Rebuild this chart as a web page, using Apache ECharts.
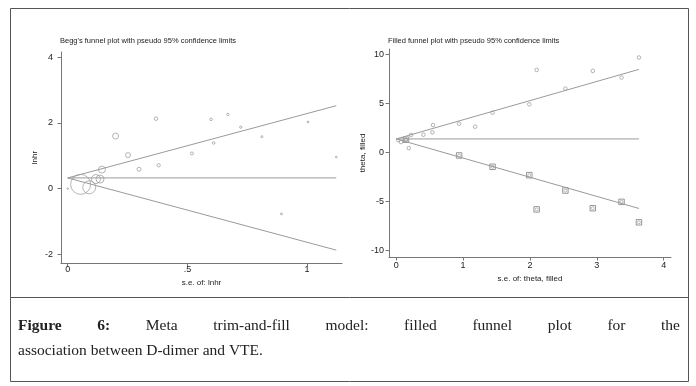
<!DOCTYPE html>
<html><head><meta charset="utf-8">
<script src="https://cdn.jsdelivr.net/npm/echarts@6/dist/echarts.min.js"></script>
<style>html,body{margin:0;padding:0;background:#fff}#c{width:696px;height:386px}</style>
</head><body><div id="c"></div>
<script>
// ---- Left panel: Begg's funnel plot ----
const beggSe     = [0, 0.054, 0.09, 0.118, 0.135, 0.143, 0.20, 0.252, 0.298, 0.369, 0.38, 0.519, 0.599, 0.61, 0.669, 0.723, 0.811, 0.893, 1.004, 1.122];
const beggLnhr   = [0, 0.13, 0.04, 0.29, 0.29, 0.58, 1.60, 1.02, 0.59, 2.13, 0.71, 1.07, 2.11, 1.39, 2.26, 1.87, 1.58, -0.77, 2.03, 0.96];
const beggWeight = [1.5, 20, 13, 9, 8, 7, 6, 5, 4, 3.6, 3.3, 3, 2.6, 2.6, 2.4, 2.3, 2.1, 2, 1.9, 1.7];
const beggTheta  = 0.326;
const beggXTicks = [0, 0.5, 1];
const beggXTickLabels = ['0', '.5', '1'];
const beggYTicks = [-2, 0, 2, 4];

// ---- Right panel: filled funnel plot ----
const obsSe     = [0.03, 0.07, 0.145, 0.186, 0.22, 0.405, 0.54, 0.55, 0.94, 1.18, 1.44, 1.99, 2.10, 2.53, 2.94, 3.37, 3.63];
const obsTheta  = [1.26, 1.06, 1.30, 0.44, 1.78, 1.81, 2.05, 2.80, 2.94, 2.63, 4.07, 4.92, 8.44, 6.53, 8.34, 7.66, 9.71];
const fillSe    = [0.145, 0.94, 1.44, 1.99, 2.10, 2.53, 2.94, 3.37, 3.63];
const fillTheta = [1.30, -0.31, -1.47, -2.33, -5.83, -3.90, -5.71, -5.06, -7.15];
const filledTheta = 1.38;
const fillXTicks = [0, 1, 2, 3, 4];
const fillYTicks = [-10, -5, 0, 5, 10];

const Z = 1.96;
const FONT = '"Liberation Sans", Arial, sans-serif';
const SERIF = '"Liberation Serif", "Times New Roman", serif';
const AX = '#777', TXT = '#222', LN = '#9a9a9a', MK = '#8a8a8a';

function funnel(theta, seMax) {
  return {
    upper: [[0, theta], [seMax, theta + Z * seMax]],
    lower: [[0, theta], [seMax, theta - Z * seMax]],
    mid:   [[0, theta], [seMax, theta]]
  };
}
const fL = funnel(beggTheta, Math.max(...beggSe));
const fR = funnel(filledTheta, Math.max(...obsSe));

function xAx(gi, min, max, ticks, fmt, name, gap, margin) {
  return {
    gridIndex: gi, type: 'value', min: min, max: max,
    name: name, nameLocation: 'middle', nameGap: gap,
    nameTextStyle: {fontFamily: FONT, fontSize: 8, color: TXT},
    axisLine: {show: true, onZero: false, lineStyle: {color: AX, width: 1}},
    axisTick: {show: true, length: 3.5, customValues: ticks, lineStyle: {color: AX}},
    axisLabel: {customValues: ticks, formatter: fmt, fontFamily: FONT, fontSize: 9, color: TXT, margin: margin},
    splitLine: {show: false}
  };
}
function yAx(gi, min, max, ticks, name, gap, margin) {
  return {
    gridIndex: gi, type: 'value', min: min, max: max,
    name: name, nameLocation: 'middle', nameGap: gap,
    nameTextStyle: {fontFamily: FONT, fontSize: 8, color: TXT},
    axisLine: {show: true, onZero: false, lineStyle: {color: AX, width: 1}},
    axisTick: {show: true, length: 3.5, customValues: ticks, lineStyle: {color: AX}},
    axisLabel: {customValues: ticks, fontFamily: FONT, fontSize: 9, color: TXT, margin: margin},
    splitLine: {show: false}
  };
}
function lineSeries(xi, data) {
  return {type: 'line', xAxisIndex: xi, yAxisIndex: xi, data: data, symbol: 'none',
    lineStyle: {color: LN, width: 1}, silent: true, animation: false};
}

// caption: justified first line
const ctx = document.createElement('canvas').getContext('2d');
const CAP_SIZE = 15.5;
const line1 = [['Figure', true], ['6:', true], ['Meta', false], ['trim-and-fill', false], ['model:', false],
  ['filled', false], ['funnel', false], ['plot', false], ['for', false], ['the', false]];
const capLeft = 18, capRight = 680;
let widths = line1.map(([w, b]) => { ctx.font = (b ? 'bold ' : '') + CAP_SIZE + 'px ' + SERIF; return ctx.measureText(w).width; });
const total = widths.reduce((a, b) => a + b, 0);
const gapW = (capRight - capLeft - total) / (line1.length - 1);
const capEls = [];
let cx = capLeft;
line1.forEach(([w, b], i) => {
  capEls.push({type: 'text', left: cx, top: 318, style: {text: w, font: (b ? 'bold ' : '') + CAP_SIZE + 'px ' + SERIF, fill: '#222'}});
  cx += widths[i] + gapW;
});
capEls.push({type: 'text', left: capLeft, top: 343, style: {text: 'association between D-dimer and VTE.', font: CAP_SIZE + 'px ' + SERIF, fill: '#222'}});

const chart = echarts.init(document.getElementById('c'), null, {renderer: 'canvas'});
chart.setOption({
  animation: false,
  backgroundColor: '#fff',
  title: [
    {text: "Begg's funnel plot with pseudo 95% confidence limits", left: 60, top: 37, padding: 0,
      textStyle: {fontFamily: FONT, fontSize: 7.5, fontWeight: 'normal', color: TXT}},
    {text: 'Filled funnel plot with pseudo 95% confidence limits', left: 388, top: 37, padding: 0,
      textStyle: {fontFamily: FONT, fontSize: 7.5, fontWeight: 'normal', color: TXT}}
  ],
  grid: [
    {left: 61, top: 52, width: 281, height: 211},
    {left: 389, top: 49, width: 282, height: 208}
  ],
  xAxis: [
    xAx(0, -0.028, 1.146, beggXTicks, v => beggXTickLabels[beggXTicks.indexOf(v)] ?? '', 's.e. of: lnhr', 12, 2),
    xAx(1, -0.109, 4.11, fillXTicks, v => String(v), 's.e. of: theta, filled', 14, 4)
  ],
  yAxis: [
    yAx(0, -2.265, 4.16, beggYTicks, 'lnhr', 22, 8),
    yAx(1, -10.7, 10.58, fillYTicks, 'theta, filled', 21, 5)
  ],
  series: [
    lineSeries(0, fL.mid), lineSeries(0, fL.upper), lineSeries(0, fL.lower),
    {type: 'scatter', xAxisIndex: 0, yAxisIndex: 0,
      data: beggSe.map((s, i) => [s, beggLnhr[i], beggWeight[i]]),
      symbol: 'circle', symbolSize: d => d[2],
      itemStyle: {color: 'rgba(0,0,0,0)', borderColor: MK, borderWidth: 0.8}},
    lineSeries(1, fR.mid), lineSeries(1, fR.upper), lineSeries(1, fR.lower),
    {type: 'scatter', xAxisIndex: 1, yAxisIndex: 1,
      data: obsSe.map((s, i) => [s, obsTheta[i]]),
      symbol: 'circle', symbolSize: 3.6,
      itemStyle: {color: 'rgba(0,0,0,0)', borderColor: MK, borderWidth: 0.8}},
    {type: 'scatter', xAxisIndex: 1, yAxisIndex: 1,
      data: fillSe.map((s, i) => [s, fillTheta[i]]),
      symbol: 'rect', symbolSize: 5.5,
      itemStyle: {color: 'rgba(0,0,0,0)', borderColor: '#6f6f6f', borderWidth: 0.9}},
    {type: 'scatter', xAxisIndex: 1, yAxisIndex: 1,
      data: fillSe.map((s, i) => [s, fillTheta[i]]),
      symbol: 'circle', symbolSize: 3,
      itemStyle: {color: 'rgba(0,0,0,0)', borderColor: MK, borderWidth: 0.7}}
  ],
  graphic: [
    {type: 'rect', shape: {x: 10.5, y: 8.5, width: 678, height: 373}, style: {fill: 'none', stroke: '#555', lineWidth: 1}, silent: true},
    {type: 'line', shape: {x1: 10.5, y1: 297.5, x2: 688.5, y2: 297.5}, style: {stroke: '#555', lineWidth: 1}, silent: true}
  ].concat(capEls)
});
</script>
</body></html>
